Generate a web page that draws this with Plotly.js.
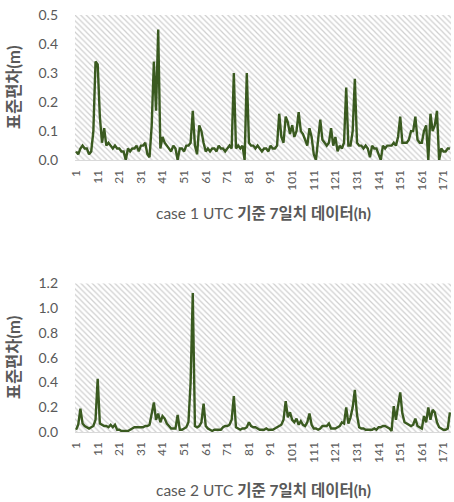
<!DOCTYPE html>
<html>
<head>
<meta charset="utf-8">
<script src="https://cdn.plot.ly/plotly-3.0.1.min.js"></script>
<style>html,body{margin:0;padding:0;background:#fff;}#chart{width:454px;height:502px;}</style>
</head>
<body>
<div id="chart"></div>
<script>
// ---- data ----
var case1 = [0.03,0.02,0.04,0.05,0.04,0.04,0.02,0.03,0.10,0.34,
0.33,0.15,0.06,0.11,0.05,0.06,0.05,0.04,0.05,0.04,
0.04,0.03,0.03,0.00,0.04,0.03,0.04,0.04,0.05,0.03,
0.05,0.05,0.06,0.02,0.01,0.12,0.34,0.17,0.45,0.04,
0.08,0.06,0.05,0.04,0.03,0.05,0.04,0.00,0.04,0.04,
0.03,0.05,0.05,0.06,0.17,0.05,0.02,0.12,0.10,0.06,
0.03,0.04,0.03,0.04,0.04,0.03,0.05,0.04,0.04,0.03,
0.04,0.05,0.04,0.30,0.04,0.05,0.04,0.05,0.00,0.30,
0.06,0.05,0.05,0.04,0.05,0.04,0.03,0.04,0.04,0.03,
0.05,0.04,0.04,0.05,0.16,0.08,0.06,0.15,0.13,0.09,
0.12,0.08,0.10,0.165,0.10,0.09,0.07,0.05,0.11,0.08,
0.02,0.00,0.07,0.14,0.07,0.06,0.05,0.06,0.11,0.05,
0.08,0.03,0.05,0.04,0.06,0.25,0.05,0.05,0.10,0.28,
0.06,0.05,0.05,0.04,0.05,0.04,0.01,0.05,0.04,0.04,
0.02,0.00,0.05,0.04,0.05,0.05,0.05,0.06,0.05,0.08,
0.15,0.06,0.06,0.06,0.07,0.10,0.10,0.15,0.07,0.06,
0.06,0.10,0.12,0.00,0.16,0.10,0.12,0.17,0.00,0.04,
0.03,0.03,0.04,0.04];
var case2 = [0.02,0.06,0.19,0.07,0.05,0.04,0.03,0.04,0.05,0.10,
0.43,0.07,0.06,0.05,0.05,0.04,0.06,0.04,0.06,0.02,
0.02,0.01,0.01,0.01,0.01,0.02,0.03,0.04,0.04,0.04,
0.04,0.04,0.05,0.05,0.06,0.15,0.24,0.10,0.15,0.08,
0.13,0.11,0.07,0.05,0.03,0.03,0.03,0.14,0.02,0.02,
0.03,0.04,0.08,0.40,1.12,0.05,0.04,0.05,0.08,0.23,
0.05,0.03,0.02,0.01,0.02,0.02,0.02,0.02,0.04,0.05,
0.05,0.06,0.10,0.29,0.04,0.03,0.02,0.03,0.03,0.04,
0.08,0.05,0.04,0.04,0.03,0.02,0.02,0.02,0.03,0.02,
0.02,0.02,0.03,0.04,0.05,0.06,0.10,0.25,0.12,0.16,
0.10,0.08,0.11,0.06,0.09,0.06,0.05,0.08,0.15,0.06,
0.03,0.03,0.02,0.03,0.05,0.05,0.05,0.07,0.03,0.03,
0.03,0.04,0.05,0.08,0.07,0.20,0.07,0.12,0.20,0.34,
0.14,0.04,0.03,0.03,0.02,0.02,0.02,0.02,0.03,0.02,
0.04,0.04,0.05,0.05,0.04,0.03,0.01,0.21,0.10,0.20,
0.32,0.15,0.08,0.07,0.06,0.05,0.06,0.11,0.05,0.04,
0.03,0.13,0.08,0.20,0.10,0.18,0.16,0.08,0.04,0.03,
0.02,0.02,0.03,0.16];
var hours = case1.map(function(_, i){ return i + 1; });
var tickHours = [1,11,21,31,41,51,61,71,81,91,101,111,121,131,141,151,161,171];
var yMax1 = 0.5, yMax2 = 1.2;
var xTitle1 = 'case 1 UTC <b>기준 7일치 데이터(h)</b>';
var xTitle2 = 'case 2 UTC <b>기준 7일치 데이터(h)</b>';
var yTitle = '<b>표준편차(m)</b>';

// ---- chart ----
var xMin = 0.5, xMax = hours.length + 0.5;
var lineColor = '#3a5a20';
var txt = '#595959';
var fnt = 'Lato, "Noto Sans CJK KR", sans-serif';
var pattern = {shape:'\\', bgcolor:'#ffffff', fgcolor:'#cfcfcf', size:4, solidity:0.3};

function bg(xa, ya, ymax){
  return {x:[xMin,xMax,xMax,xMin,xMin], y:[0,0,ymax,ymax,0], xaxis:xa, yaxis:ya,
    type:'scatter', mode:'lines', fill:'toself', fillcolor:'#ffffff', fillpattern:pattern,
    line:{width:0}, hoverinfo:'skip', showlegend:false};
}
var traces = [
  bg('x','y',yMax1),
  {x:hours, y:case1, xaxis:'x', yaxis:'y', type:'scatter', mode:'lines',
   line:{color:lineColor, width:2.4}, showlegend:false},
  bg('x2','y2',yMax2),
  {x:hours, y:case2, xaxis:'x2', yaxis:'y2', type:'scatter', mode:'lines',
   line:{color:lineColor, width:2.4}, showlegend:false}
];

function xax(anchor){
  return {anchor:anchor, domain:[0,1], range:[xMin,xMax], tickmode:'array', tickvals:tickHours,
    ticktext:tickHours.map(String), tickangle:-90, showgrid:false, zeroline:false,
    showline:true, linecolor:'#d9d9d9', linewidth:1, ticks:'', ticklabelstandoff:4,
    tickfont:{family:fnt, size:12, color:txt}};
}
function yax(anchor, dom, ymax, dt){
  return {anchor:anchor, domain:dom, range:[0,ymax], dtick:dt, tickformat:'.1f',
    showgrid:false, zeroline:false, showline:false, ticks:'', ticklabelstandoff:16,
    tickfont:{family:fnt, size:14, color:txt}};
}
var layout = {
  width:454, height:502, margin:{l:75, r:3, t:0, b:0},
  paper_bgcolor:'#ffffff', plot_bgcolor:'#ffffff',
  xaxis: xax('y'), yaxis: yax('x', [0.681,0.970], yMax1, 0.1),
  xaxis2: xax('y2'), yaxis2: yax('x2', [0.139,0.436], yMax2, 0.2),
  annotations:[
    {text:xTitle1, xref:'paper', yref:'paper', x:0.50, y:0.576, xanchor:'center', yanchor:'middle',
     showarrow:false, font:{family:fnt, size:15.5, color:txt}},
    {text:xTitle2, xref:'paper', yref:'paper', x:0.50, y:0.024, xanchor:'center', yanchor:'middle',
     showarrow:false, font:{family:fnt, size:15.5, color:txt}},
    {text:yTitle, xref:'paper', yref:'paper', x:-0.16, y:0.826, xanchor:'center', yanchor:'middle',
     textangle:-90, showarrow:false, font:{family:fnt, size:16.5, color:txt}},
    {text:yTitle, xref:'paper', yref:'paper', x:-0.16, y:0.288, xanchor:'center', yanchor:'middle',
     textangle:-90, showarrow:false, font:{family:fnt, size:16.5, color:txt}}
  ]
};
Plotly.newPlot('chart', traces, layout, {staticPlot:true, displayModeBar:false});
</script>
</body>
</html>
